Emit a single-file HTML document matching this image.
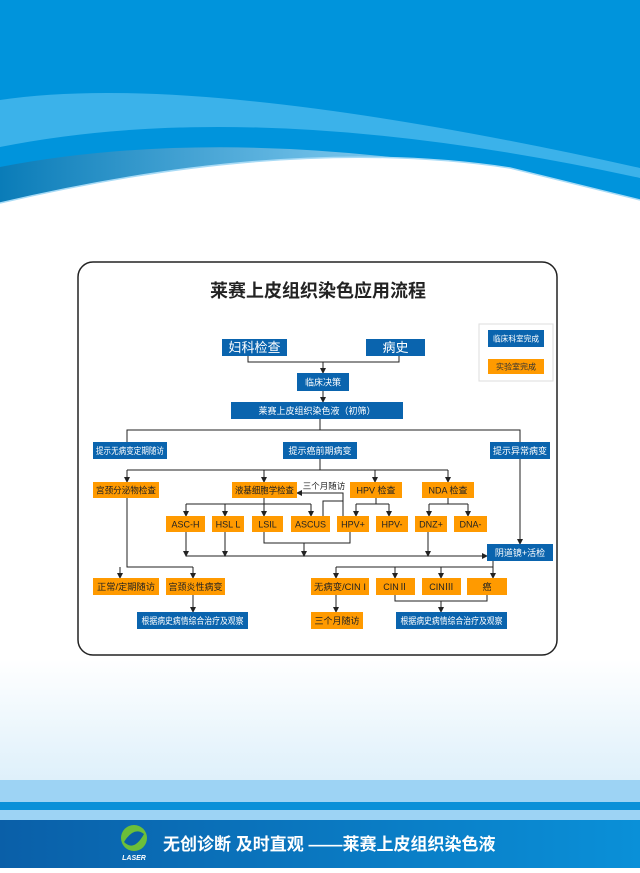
<!DOCTYPE html>
<html><head><meta charset="utf-8"><style>
body{margin:0;width:640px;height:868px;overflow:hidden;font-family:"Liberation Sans","Noto Sans CJK SC",sans-serif;}
</style></head><body>
<svg width="640" height="868" viewBox="0 0 640 868" xmlns="http://www.w3.org/2000/svg" font-family="Liberation Sans, Noto Sans CJK SC, sans-serif">
<defs>
<linearGradient id="bg" x1="0" y1="0" x2="0" y2="1">
<stop offset="0" stop-color="#fff"/><stop offset="0.76" stop-color="#fff"/><stop offset="1" stop-color="#c6e5f7"/></linearGradient>
<linearGradient id="wv" x1="0" y1="0" x2="1" y2="0">
<stop offset="0" stop-color="#0a7cb8"/><stop offset="0.5" stop-color="#6cbde6"/><stop offset="1" stop-color="#a8dbf6"/></linearGradient>
<linearGradient id="ft" x1="0" y1="0" x2="1" y2="0">
<stop offset="0" stop-color="#0a5fa8"/><stop offset="1" stop-color="#0a90d8"/></linearGradient>
<marker id="a" markerWidth="6" markerHeight="6" refX="5" refY="3" orient="auto" markerUnits="userSpaceOnUse"><path d="M0,0 L6,3 L0,6z" fill="#222"/></marker>
</defs>
<rect width="640" height="868" fill="url(#bg)"/>
<rect width="640" height="210" fill="#0094dc"/>
<path d="M0,100 Q200,70 640,168 L640,178 Q260,95 0,147z" fill="#3bb2ea"/>
<path d="M0,167 Q270,115 640,200 L640,250 L0,250z" fill="url(#wv)"/>
<path d="M0,203 Q290,135 510,168 Q580,185 640,200 L640,250 L0,250z" fill="#fff"/>
<rect y="210" width="640" height="60" fill="#fff"/>
<path d="M0,203 Q290,135 510,168 Q580,185 640,200" fill="none" stroke="#a8dbf6" stroke-width="1.5"/>
<rect x="0" y="780" width="640" height="88" fill="#9dd3f4"/>
<rect x="0" y="802" width="640" height="8" fill="#0a90d8"/>
<rect x="0" y="820" width="640" height="48" fill="url(#ft)"/>
<circle cx="134" cy="838" r="13" fill="#6cbf3a"/><path d="M124,842 Q134,826 144,834 Q134,852 124,842z" fill="#0a5fa8"/>
<text x="134" y="860" font-size="7" fill="#fff" text-anchor="middle" font-style="italic" font-weight="bold">LASER</text>
<text x="163" y="850" font-size="17" font-weight="bold" fill="#fff">无创诊断  及时直观 ——莱赛上皮组织染色液</text>
<rect x="78" y="262" width="479" height="393" rx="15" fill="#fff" stroke="#222" stroke-width="1.5"/>
<text x="318" y="297" font-size="18" font-weight="bold" text-anchor="middle" fill="#222">莱赛上皮组织染色应用流程</text>
<rect x="479" y="324" width="74" height="57" fill="#fff" stroke="#ddd"/>
<g font-size="8" text-anchor="middle" fill="#fff">
<rect x="488" y="330" width="56" height="17" fill="#0a64ae"/><text x="516" y="341.5" textLength="46" lengthAdjust="spacingAndGlyphs">临床科室完成</text>
<rect x="488" y="359" width="56" height="15" fill="#ff9a00"/><text x="516" y="369.5" fill="#333">实验室完成</text>
</g>
<g stroke="#222" stroke-width="1" fill="none">
<path d="M248,356V362H399V356"/><path d="M323,362V373" marker-end="url(#a)"/>
<path d="M323,391V402" marker-end="url(#a)"/>
<path d="M320,419V430M127,442V430H520V442"/>
<path d="M320,459V470"/><path d="M127,470H448"/>
<path d="M127,470V482" marker-end="url(#a)"/><path d="M264,470V482" marker-end="url(#a)"/><path d="M375,470V482" marker-end="url(#a)"/><path d="M448,470V482" marker-end="url(#a)"/>
<path d="M264,498V504M186,504H311"/>
<path d="M186,504V516" marker-end="url(#a)"/><path d="M225,504V516" marker-end="url(#a)"/><path d="M264,504V516" marker-end="url(#a)"/><path d="M311,504V516" marker-end="url(#a)"/>
<path d="M323,516V501H343"/><path d="M343,516V493H297" marker-end="url(#a)"/>
<path d="M376,498V504M356,504H389"/><path d="M356,504V516" marker-end="url(#a)"/><path d="M389,504V516" marker-end="url(#a)"/>
<path d="M448,498V504M429,504H468"/><path d="M429,504V516" marker-end="url(#a)"/><path d="M468,504V516" marker-end="url(#a)"/>
<path d="M520,459V544" marker-end="url(#a)"/>
<path d="M186,556H487" marker-end="url(#a)"/>
<path d="M186,532V556" marker-end="url(#a)"/><path d="M225,532V556" marker-end="url(#a)"/><path d="M428,532V556" marker-end="url(#a)"/>
<path d="M264,532V543H350V532"/><path d="M304,543V556" marker-end="url(#a)"/>
<path d="M127,498V567H193"/><path d="M120,567V578" marker-end="url(#a)"/><path d="M193,567V578" marker-end="url(#a)"/>
<path d="M193,595V612" marker-end="url(#a)"/>
<path d="M493,561V567M336,567H493"/>
<path d="M336,567V578" marker-end="url(#a)"/><path d="M395,567V578" marker-end="url(#a)"/><path d="M441,567V578" marker-end="url(#a)"/><path d="M493,567V578" marker-end="url(#a)"/>
<path d="M336,595V612" marker-end="url(#a)"/>
<path d="M395,595V601H487V595"/><path d="M441,601V612" marker-end="url(#a)"/>
</g>
<g font-size="9" text-anchor="middle" fill="#fff">
<rect x="222" y="339" width="65" height="17" fill="#0a64ae"/><text x="254.5" y="352" font-size="13">妇科检查</text>
<rect x="366" y="339" width="59" height="17" fill="#0a64ae"/><text x="395.5" y="352" font-size="13">病史</text>
<rect x="297" y="373" width="52" height="18" fill="#0a64ae"/><text x="323" y="385.5">临床决策</text>
<rect x="231" y="402" width="172" height="17" fill="#0a64ae"/><text x="317" y="414">莱赛上皮组织染色液（初筛）</text>
<rect x="93" y="442" width="74" height="17" fill="#0a64ae"/><text x="130" y="454" textLength="68" lengthAdjust="spacingAndGlyphs">提示无病变定期随访</text>
<rect x="283" y="442" width="74" height="17" fill="#0a64ae"/><text x="320" y="454">提示癌前期病变</text>
<rect x="490" y="442" width="60" height="17" fill="#0a64ae"/><text x="520" y="454" textLength="54" lengthAdjust="spacingAndGlyphs">提示异常病变</text>
<rect x="487" y="544" width="66" height="17" fill="#0a64ae"/><text x="520" y="556">阴道镜+活检</text>
<rect x="137" y="612" width="111" height="17" fill="#0a64ae"/><text x="192.5" y="624" textLength="102" lengthAdjust="spacingAndGlyphs">根据病史病情综合治疗及观察</text>
<rect x="396" y="612" width="111" height="17" fill="#0a64ae"/><text x="451.5" y="624" textLength="102" lengthAdjust="spacingAndGlyphs">根据病史病情综合治疗及观察</text>
</g>
<g font-size="9" text-anchor="middle" fill="#222">
<rect x="93" y="482" width="66" height="16" fill="#ff9a00"/><text x="126" y="493.5" textLength="60" lengthAdjust="spacingAndGlyphs">宫颈分泌物检查</text>
<rect x="232" y="482" width="65" height="16" fill="#ff9a00"/><text x="264.5" y="493.5" textLength="59" lengthAdjust="spacingAndGlyphs">液基细胞学检查</text>
<rect x="350" y="482" width="52" height="16" fill="#ff9a00"/><text x="376" y="493.5">HPV 检查</text>
<rect x="422" y="482" width="52" height="16" fill="#ff9a00"/><text x="448" y="493.5">NDA 检查</text>
<text x="324" y="489" font-size="8.5">三个月随访</text>
<rect x="166" y="516" width="39" height="16" fill="#ff9a00"/><text x="185.5" y="527.5">ASC-H</text>
<rect x="212" y="516" width="32" height="16" fill="#ff9a00"/><text x="228" y="527.5">HSL L</text>
<rect x="252" y="516" width="31" height="16" fill="#ff9a00"/><text x="267.5" y="527.5">LSIL</text>
<rect x="291" y="516" width="39" height="16" fill="#ff9a00"/><text x="310.5" y="527.5">ASCUS</text>
<rect x="337" y="516" width="32" height="16" fill="#ff9a00"/><text x="353" y="527.5">HPV+</text>
<rect x="376" y="516" width="32" height="16" fill="#ff9a00"/><text x="392" y="527.5">HPV-</text>
<rect x="415" y="516" width="32" height="16" fill="#ff9a00"/><text x="431" y="527.5">DNZ+</text>
<rect x="454" y="516" width="33" height="16" fill="#ff9a00"/><text x="470.5" y="527.5">DNA-</text>
<rect x="93" y="578" width="66" height="17" fill="#ff9a00"/><text x="126" y="590" textLength="58" lengthAdjust="spacingAndGlyphs">正常/定期随访</text>
<rect x="166" y="578" width="59" height="17" fill="#ff9a00"/><text x="195.5" y="590" textLength="54" lengthAdjust="spacingAndGlyphs">宫颈炎性病变</text>
<rect x="311" y="578" width="58" height="17" fill="#ff9a00"/><text x="340" y="590" textLength="52" lengthAdjust="spacingAndGlyphs">无病变/CIN I</text>
<rect x="376" y="578" width="39" height="17" fill="#ff9a00"/><text x="395.5" y="590">CINⅡ</text>
<rect x="422" y="578" width="39" height="17" fill="#ff9a00"/><text x="441.5" y="590">CINⅢ</text>
<rect x="467" y="578" width="40" height="17" fill="#ff9a00"/><text x="487" y="590">癌</text>
<rect x="311" y="612" width="52" height="17" fill="#ff9a00"/><text x="337" y="624">三个月随访</text>
</g>
</svg>
</body></html>
